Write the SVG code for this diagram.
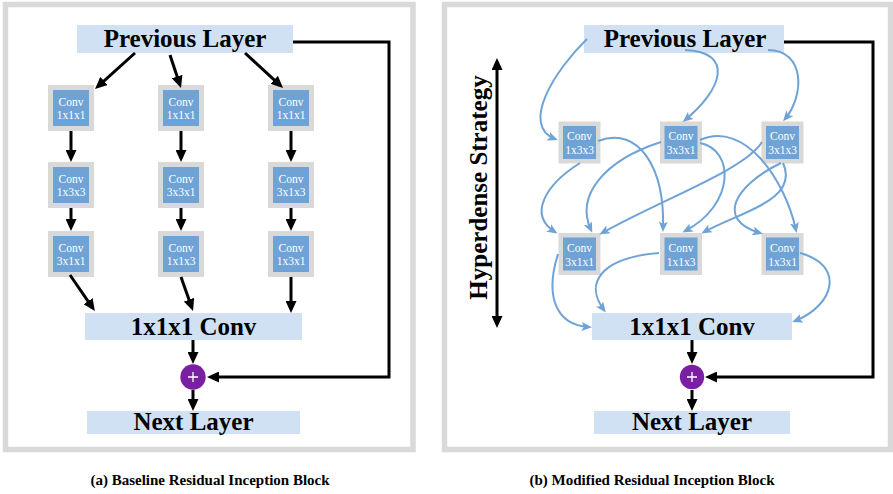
<svg xmlns="http://www.w3.org/2000/svg" width="893" height="494" viewBox="0 0 893 494">
  <style>
    .panel { fill: #ffffff; stroke: #d9d9d9; stroke-width: 5.5; }
    .io { fill: #cfe1f3; }
    .big { font-family: "Liberation Serif", "Times New Roman", serif; font-weight: bold; font-size: 25px; fill: #000; text-anchor: middle; }
    .cap { font-family: "Liberation Serif", "Times New Roman", serif; font-weight: bold; font-size: 15px; fill: #000; text-anchor: middle; }
    .shell { fill: #d9d9d9; }
    .core { fill: #6fa3d6; }
    .lbl { font-family: "Liberation Serif", "Times New Roman", serif; font-size: 11.5px; fill: #ffffff; text-anchor: middle; }
    .blk { fill: none; stroke: #000; stroke-width: 3; marker-end: url(#ah); }
    .blu { fill: none; stroke: #6fa3d6; stroke-width: 2; marker-end: url(#bh); }
    .add { fill: #7a1fa2; }
    .plus { stroke: #ffffff; stroke-width: 1.3; }
  </style>
  <defs>
    <marker id="ah" markerUnits="userSpaceOnUse" markerWidth="13" markerHeight="11" refX="8" refY="5.5" orient="auto-start-reverse">
      <path d="M0,0 L12,5.5 L0,11 z" fill="#000"/>
    </marker>
    <marker id="bh" markerUnits="userSpaceOnUse" markerWidth="11" markerHeight="9" refX="7.5" refY="4.5" orient="auto">
      <path d="M0,0 L10.5,4.5 L0,9 L2.5,4.5 z" fill="#6fa3d6"/>
    </marker>
  </defs>

  <!-- panel frames -->
  <rect class="panel" x="5.5" y="4.5" width="407.5" height="445"/>
  <rect class="panel" x="444.5" y="4.5" width="446" height="445"/>

  <!-- ===== (a) baseline block ===== -->
  <g id="a-prev">
    <rect class="io" x="77" y="25" width="216" height="28"/>
    <text class="big" x="185" y="47">Previous Layer</text>
  </g>

  <g id="a-c11">
    <rect class="shell" x="48" y="85" width="46" height="46"/>
    <rect class="core" x="53" y="90" width="36" height="36"/>
    <text class="lbl" x="71" y="105.5">Conv</text>
    <text class="lbl" x="71" y="119">1x1x1</text>
  </g>
  <g id="a-c12">
    <rect class="shell" x="48" y="162" width="46" height="46"/>
    <rect class="core" x="53" y="167" width="36" height="36"/>
    <text class="lbl" x="71" y="182.5">Conv</text>
    <text class="lbl" x="71" y="196">1x3x3</text>
  </g>
  <g id="a-c13">
    <rect class="shell" x="48" y="231" width="46" height="46"/>
    <rect class="core" x="53" y="236" width="36" height="36"/>
    <text class="lbl" x="71" y="251.5">Conv</text>
    <text class="lbl" x="71" y="265">3x1x1</text>
  </g>

  <g id="a-c21">
    <rect class="shell" x="158" y="85" width="46" height="46"/>
    <rect class="core" x="163" y="90" width="36" height="36"/>
    <text class="lbl" x="181" y="105.5">Conv</text>
    <text class="lbl" x="181" y="119">1x1x1</text>
  </g>
  <g id="a-c22">
    <rect class="shell" x="158" y="162" width="46" height="46"/>
    <rect class="core" x="163" y="167" width="36" height="36"/>
    <text class="lbl" x="181" y="182.5">Conv</text>
    <text class="lbl" x="181" y="196">3x3x1</text>
  </g>
  <g id="a-c23">
    <rect class="shell" x="158" y="231" width="46" height="46"/>
    <rect class="core" x="163" y="236" width="36" height="36"/>
    <text class="lbl" x="181" y="251.5">Conv</text>
    <text class="lbl" x="181" y="265">1x1x3</text>
  </g>

  <g id="a-c31">
    <rect class="shell" x="268" y="85" width="46" height="46"/>
    <rect class="core" x="273" y="90" width="36" height="36"/>
    <text class="lbl" x="291" y="105.5">Conv</text>
    <text class="lbl" x="291" y="119">1x1x1</text>
  </g>
  <g id="a-c32">
    <rect class="shell" x="268" y="162" width="46" height="46"/>
    <rect class="core" x="273" y="167" width="36" height="36"/>
    <text class="lbl" x="291" y="182.5">Conv</text>
    <text class="lbl" x="291" y="196">3x1x3</text>
  </g>
  <g id="a-c33">
    <rect class="shell" x="268" y="231" width="46" height="46"/>
    <rect class="core" x="273" y="236" width="36" height="36"/>
    <text class="lbl" x="291" y="251.5">Conv</text>
    <text class="lbl" x="291" y="265">1x3x1</text>
  </g>

  <g id="a-merge">
    <rect class="io" x="85" y="313" width="217" height="27"/>
    <text class="big" x="193.5" y="335">1x1x1 Conv</text>
  </g>
  <g id="a-add">
    <circle class="add" cx="193" cy="377" r="12.7"/>
    <path class="plus" d="M188,377 H198 M193,372 V382"/>
  </g>
  <g id="a-next">
    <rect class="io" x="87" y="411" width="213" height="23"/>
    <text class="big" x="193.5" y="430">Next Layer</text>
  </g>

  <g id="a-edges">
    <path class="blk" d="M135,53 L98,86.3"/>
    <path class="blk" d="M170,55 L179.7,84.2"/>
    <path class="blk" d="M245,53 L280.1,85.3"/>
    <path class="blk" d="M71,131 V158"/>
    <path class="blk" d="M71,208 V227"/>
    <path class="blk" d="M181,131 V158"/>
    <path class="blk" d="M181,208 V227"/>
    <path class="blk" d="M291,131 V158"/>
    <path class="blk" d="M291,208 V227"/>
    <path class="blk" d="M70,275 L92.6,307.8"/>
    <path class="blk" d="M181,277 L191.7,307.2"/>
    <path class="blk" d="M291,277 V309"/>
    <path class="blk" d="M193,340 V360"/>
    <path class="blk" d="M193,390 V407"/>
    <path class="blk" d="M293,42 H389 V377 H211"/>
  </g>

  <text class="cap" x="210" y="485">(a) Baseline Residual Inception Block</text>

  <!-- ===== (b) modified block ===== -->
  <g id="b-prev">
    <rect class="io" x="584" y="25" width="200" height="28"/>
    <text class="big" x="685" y="47">Previous Layer</text>
  </g>

  <g id="b-r1c1">
    <rect class="shell" x="558.5" y="121.5" width="42" height="42"/>
    <rect class="core" x="563" y="126" width="33" height="33"/>
    <text class="lbl" x="579.5" y="140">Conv</text>
    <text class="lbl" x="579.5" y="154">1x3x3</text>
  </g>
  <g id="b-r1c2">
    <rect class="shell" x="660" y="121.5" width="42" height="42"/>
    <rect class="core" x="664.5" y="126" width="33" height="33"/>
    <text class="lbl" x="681" y="140">Conv</text>
    <text class="lbl" x="681" y="154">3x3x1</text>
  </g>
  <g id="b-r1c3">
    <rect class="shell" x="761.5" y="121.5" width="42" height="42"/>
    <rect class="core" x="766" y="126" width="33" height="33"/>
    <text class="lbl" x="782.5" y="140">Conv</text>
    <text class="lbl" x="782.5" y="154">3x1x3</text>
  </g>
  <g id="b-r2c1">
    <rect class="shell" x="558.5" y="233" width="42" height="42"/>
    <rect class="core" x="563" y="237.5" width="33" height="33"/>
    <text class="lbl" x="579.5" y="251.5">Conv</text>
    <text class="lbl" x="579.5" y="265.5">3x1x1</text>
  </g>
  <g id="b-r2c2">
    <rect class="shell" x="660" y="233" width="42" height="42"/>
    <rect class="core" x="664.5" y="237.5" width="33" height="33"/>
    <text class="lbl" x="681" y="251.5">Conv</text>
    <text class="lbl" x="681" y="265.5">1x1x3</text>
  </g>
  <g id="b-r2c3">
    <rect class="shell" x="761.5" y="233" width="42" height="42"/>
    <rect class="core" x="766" y="237.5" width="33" height="33"/>
    <text class="lbl" x="782.5" y="251.5">Conv</text>
    <text class="lbl" x="782.5" y="265.5">1x3x1</text>
  </g>

  <g id="b-merge">
    <rect class="io" x="592" y="313" width="200" height="27"/>
    <text class="big" x="692" y="335">1x1x1 Conv</text>
  </g>
  <g id="b-add">
    <circle class="add" cx="692" cy="377" r="12.2"/>
    <path class="plus" d="M687,377 H697 M692,372 V382"/>
  </g>
  <g id="b-next">
    <rect class="io" x="594" y="411" width="196" height="23"/>
    <text class="big" x="692" y="430">Next Layer</text>
  </g>

  <g id="b-strategy">
    <path class="blk" d="M497,324 V62" marker-start="url(#ah)"/>
    <text class="big" transform="translate(487,187.5) rotate(-90)" x="0" y="0">Hyperdense Strategy</text>
  </g>

  <g id="b-edges">
    <path class="blu" d="M587,39 C555,70 520,125 555,139"/>
    <path class="blu" d="M685,50 C735,52 722,90 685,120"/>
    <path class="blu" d="M768,50 C805,50 805,95 785,119"/>

    <path class="blu" d="M580,163 C545,185 528,215 555,232"/>
    <path class="blu" d="M598,141 C640,125 665,170 663,229"/>
    <path class="blu" d="M661,142 C605,160 575,195 591,230"/>
    <path class="blu" d="M700,143 C735,150 735,205 685,231"/>
    <path class="blu" d="M700,140 C745,120 785,180 796,230"/>
    <path class="blu" d="M762,142 C745,170 660,200 602,233"/>
    <path class="blu" d="M783,163 C800,200 740,212 704,232"/>
    <path class="blu" d="M781,163 C735,185 715,220 760,233"/>

    <path class="blu" d="M558,254 C545,295 555,325 589,327"/>
    <path class="blu" d="M659,253 C598,258 585,285 604,310"/>
    <path class="blu" d="M800,253 C845,265 835,305 795,321"/>

    <path class="blk" d="M784,42 H873 V377 H709"/>
    <path class="blk" d="M692,340 V360"/>
    <path class="blk" d="M692,390 V407"/>
  </g>

  <text class="cap" x="652" y="485">(b) Modified Residual Inception Block</text>
</svg>
